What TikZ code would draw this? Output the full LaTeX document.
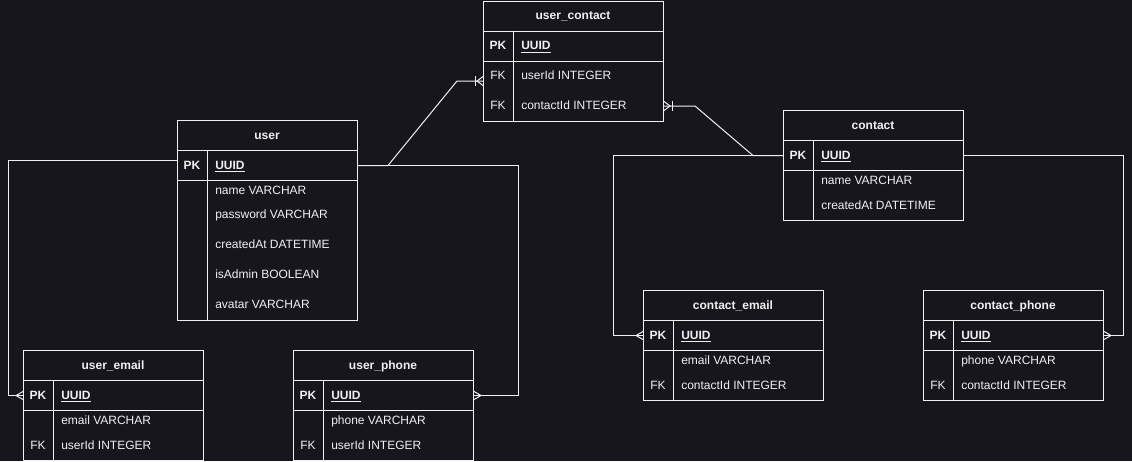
\documentclass[tikz,border=0pt]{standalone}
\usepackage{fontspec}
\setmainfont{Liberation Sans}
\usetikzlibrary{calc}
\definecolor{bg}{HTML}{18161D}
\definecolor{fg}{HTML}{F0F0F0}
\tikzset{
  ln/.style={draw=fg, line width=0.75pt},
  frame/.style={draw=fg, line width=0.75pt, inner sep=0pt, anchor=north west, minimum width=135pt},
  hdrbox/.style={frame, minimum height=22.5pt},
  pkbox/.style={frame, minimum height=22.5pt},
  bodybox/.style={frame, minimum height=#1},
  txt/.style={text=fg, inner sep=0pt, font=\fontsize{9pt}{10pt}\selectfont},
  fld/.style={txt, anchor=base west},
  keyt/.style={txt, anchor=base},
  keyb/.style={txt, anchor=base, font=\fontsize{9pt}{10pt}\selectfont\bfseries},
  ttl/.style={txt, anchor=base, font=\fontsize{9pt}{10pt}\selectfont\bfseries},
  pics/many/.style={code={\draw[ln] (0,-4) -- (-7,0) -- (0,4);}},
  pics/onemany/.style={code={\draw[ln] (0,-4.5) -- (-6,0) -- (0,4.5); \draw[ln] (-8,-5) -- (-8,5);}},
}
\newcommand{\pkuuid}{\underline{\textbf{UUID}}}
\begin{document}
\begin{tikzpicture}[x=0.75pt,y=-0.75pt]
\fill[bg] (0,0) rectangle (1132,461);
\useasboundingbox (0,0) rectangle (1132,461);

% ---------- user_contact ----------
\node[hdrbox] (uc) at (483,0.5) {};
\node[pkbox] (uc-pk) at (483,30.5) {};
\node[bodybox=45pt] (uc-fk) at (483,60.5) {};
\draw[ln] (513,30.5) -- (513,120.5);
\node[ttl] (uc-t) at (573,19.8) {user\_contact};
\node[keyb] (uc-k1) at (498,49.8) {PK};
\node[fld] (uc-f1) at (521,49.8) {\pkuuid};
\node[keyt] (uc-k2) at (498,79.3) {FK};
\node[fld] (uc-f2) at (521,79.3) {userId INTEGER};
\node[keyt] (uc-k3) at (498,109.3) {FK};
\node[fld] (uc-f3) at (521,109.3) {contactId INTEGER};

% ---------- user ----------
\node[hdrbox] (user) at (177,120) {};
\node[pkbox] (user-pk) at (177,150) {};
\node[bodybox=105pt] (user-body) at (177,180) {};
\draw[ln] (207,150) -- (207,320);
\node[ttl] (user-t) at (267,139.3) {user};
\node[keyb] (user-k1) at (192,169.3) {PK};
\node[fld] (user-f1) at (215,169.3) {\pkuuid};
\node[fld] (user-f2) at (215,194) {name VARCHAR};
\node[fld] (user-f3) at (215,218.3) {password VARCHAR};
\node[fld] (user-f4) at (215,248.3) {createdAt DATETIME};
\node[fld] (user-f5) at (215,278.3) {isAdmin BOOLEAN};
\node[fld] (user-f6) at (215,308.8) {avatar VARCHAR};

% ---------- contact ----------
\node[hdrbox] (contact) at (783,110) {};
\node[pkbox] (contact-pk) at (783,140) {};
\node[bodybox=37.5pt] (contact-body) at (783,170) {};
\draw[ln] (813,140) -- (813,220);
\node[ttl] (contact-t) at (873,129.3) {contact};
\node[keyb] (contact-k1) at (798,159.3) {PK};
\node[fld] (contact-f1) at (821,159.3) {\pkuuid};
\node[fld] (contact-f2) at (821,184.3) {name VARCHAR};
\node[fld] (contact-f3) at (821,209.3) {createdAt DATETIME};

% ---------- user_email ----------
\node[hdrbox] (ue) at (23,350) {};
\node[pkbox] (ue-pk) at (23,380) {};
\node[bodybox=37.5pt] (ue-body) at (23,410) {};
\draw[ln] (53,380) -- (53,460);
\node[ttl] (ue-t) at (113,369.3) {user\_email};
\node[keyb] (ue-k1) at (38,399.3) {PK};
\node[fld] (ue-f1) at (61,399.3) {\pkuuid};
\node[fld] (ue-f2) at (61,424.3) {email VARCHAR};
\node[keyt] (ue-k3) at (38,449.3) {FK};
\node[fld] (ue-f3) at (61,449.3) {userId INTEGER};

% ---------- user_phone ----------
\node[hdrbox] (up) at (293,350) {};
\node[pkbox] (up-pk) at (293,380) {};
\node[bodybox=37.5pt] (up-body) at (293,410) {};
\draw[ln] (323,380) -- (323,460);
\node[ttl] (up-t) at (383,369.3) {user\_phone};
\node[keyb] (up-k1) at (308,399.3) {PK};
\node[fld] (up-f1) at (331,399.3) {\pkuuid};
\node[fld] (up-f2) at (331,424.3) {phone VARCHAR};
\node[keyt] (up-k3) at (308,449.3) {FK};
\node[fld] (up-f3) at (331,449.3) {userId INTEGER};

% ---------- contact_email ----------
\node[hdrbox] (ce) at (643,290) {};
\node[pkbox] (ce-pk) at (643,320) {};
\node[bodybox=37.5pt] (ce-body) at (643,350) {};
\draw[ln] (673,320) -- (673,400);
\node[ttl] (ce-t) at (733,309.3) {contact\_email};
\node[keyb] (ce-k1) at (658,339.3) {PK};
\node[fld] (ce-f1) at (681,339.3) {\pkuuid};
\node[fld] (ce-f2) at (681,364.3) {email VARCHAR};
\node[keyt] (ce-k3) at (658,389.3) {FK};
\node[fld] (ce-f3) at (681,389.3) {contactId INTEGER};

% ---------- contact_phone ----------
\node[hdrbox] (cp) at (923,290) {};
\node[pkbox] (cp-pk) at (923,320) {};
\node[bodybox=37.5pt] (cp-body) at (923,350) {};
\draw[ln] (953,320) -- (953,400);
\node[ttl] (cp-t) at (1013,309.3) {contact\_phone};
\node[keyb] (cp-k1) at (938,339.3) {PK};
\node[fld] (cp-f1) at (961,339.3) {\pkuuid};
\node[fld] (cp-f2) at (961,364.3) {phone VARCHAR};
\node[keyt] (cp-k3) at (938,389.3) {FK};
\node[fld] (cp-f3) at (961,389.3) {contactId INTEGER};

% ---------- connectors ----------
\draw[ln] (user-pk.east) -- ++(30,0) -- ($(uc-fk.west)+(-26,-10)$) -- ($(uc-fk.west)+(0,-10)$);
\pic at ($(uc-fk.west)+(0,-10)$) {onemany};

\draw[ln] ($(user-pk.west)+(0,-5)$) -- ++(-169,0) |- (ue-pk.west);
\pic at (ue-pk.west) {many};

\draw[ln] (user-pk.east) -- ++(160,0) |- (up-pk.east);
\pic[rotate=180] at (up-pk.east) {many};

\draw[ln] (contact-pk.west) -- ++(-30,0) -- ($(uc-fk.east)+(31,15)$) -- ($(uc-fk.east)+(0,15)$);
\pic[rotate=180] at ($(uc-fk.east)+(0,15)$) {onemany};

\draw[ln] (contact-pk.west) -- ++(-170,0) |- (ce-pk.west);
\pic at (ce-pk.west) {many};

\draw[ln] (contact-pk.east) -- ++(159,0) |- (cp-pk.east);
\pic[rotate=180] at (cp-pk.east) {many};
\end{tikzpicture}
\end{document}
